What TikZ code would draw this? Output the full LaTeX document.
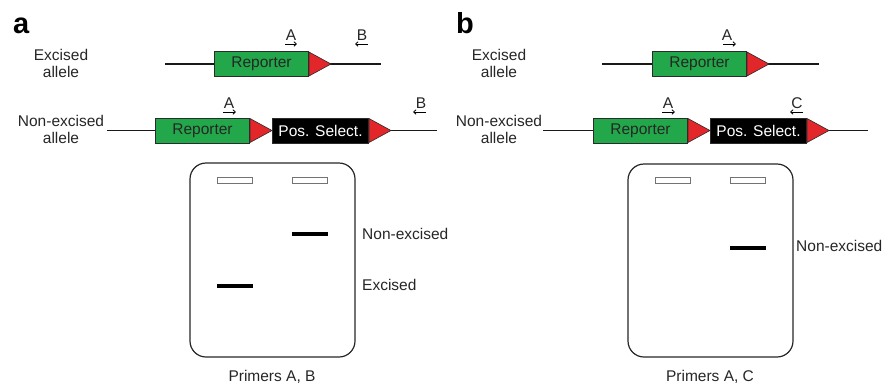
\documentclass[tikz,border=0pt]{standalone}
\usepackage{fontspec}
\setmainfont{Liberation Sans}
\usetikzlibrary{arrows.meta}
\definecolor{repgreen}{HTML}{22A84A}
\definecolor{loxred}{HTML}{E3262A}
\definecolor{edge}{HTML}{2B2B2B}
\tikzset{
  lbl/.style={font=\fontsize{15.5}{17}\selectfont, inner sep=0pt, text=black!85},
  sidelbl/.style={lbl, align=center},
  repbox/.style={draw=edge, line width=1pt, fill=repgreen, minimum width=94pt,
    minimum height=25pt, inner sep=0pt, anchor=west,
    font=\fontsize{15.5}{17}\selectfont, text=black!85},
  selbox/.style={draw=edge, line width=1pt, fill=black, minimum width=96pt,
    minimum height=25pt, inner sep=0pt, anchor=west,
    font=\fontsize{15.5}{17}\selectfont, text=white},
  dna/.style={line width=1.1pt, black!90},
  primerarrow/.style={line width=0.8pt, -{Straight Barb[length=2.5pt,width=4.5pt]}},
  well/.style={draw=black!55, line width=0.9pt, minimum width=35pt,
    minimum height=6pt, inner sep=0pt},
  band/.style={fill=black, minimum width=36pt, minimum height=4pt, inner sep=0pt},
  gel/.style={draw=black!85, line width=1.2pt, rounded corners=16pt},
  panel/.style={font=\fontsize{29}{30}\selectfont\bfseries, inner sep=0pt, anchor=base west}
}
% recombination site: red triangle whose left edge sits at (#2,#3)
\newcommand\loxsite[3]{%
  \coordinate (#1) at (#2,#3);
  \filldraw[fill=loxred, draw=edge, line width=.6pt]
    (#2,#3-12) -- (#2+22,#3) -- (#2,#3+12) -- cycle;}
% primer: label #2 centred at (#3,#4), arrow below it from #5 to #6
\newcommand\primer[6]{%
  \node[lbl] (#1) at (#3,#4) {#2};
  \coordinate (#1s) at (#5,#4+9);
  \coordinate (#1e) at (#6,#4+9);
  \draw[primerarrow] (#1s) -- (#1e);}
\begin{document}
\begin{tikzpicture}[x=1pt,y=-1pt]
\useasboundingbox (0,0) rectangle (883,384);
\clip (0,0) rectangle (883,384);

% ---------------- panel a ----------------
\node[panel] (pa) at (13,33) {a};
\node[sidelbl] (exa) at (61,63) {Excised\\allele};
\node[sidelbl] (nexa) at (61,129) {Non-excised\\allele};

% excised allele
\coordinate (a1l) at (165,64);
\coordinate (a1r) at (381,64);
\draw[dna] (a1l) -- (a1r);
\node[repbox] (repa1) at (214,64) {Reporter};
\loxsite{loxa1}{309}{64}
\primer{pA1}{A}{291}{35}{285}{297}
\primer{pB1}{B}{362}{35}{368}{355}

% non-excised allele
\coordinate (a2l) at (107,130.5);
\coordinate (a2r) at (437,130.5);
\draw[dna] (a2l) -- (a2r);
\node[repbox] (repa2) at (155,130.5) {Reporter};
\loxsite{loxa2}{250}{130.5}
\node[selbox] (sela) at (272,130.5) {Pos. Select.};
\loxsite{loxa3}{369}{130.5}
\primer{pA2}{A}{229}{103}{223}{236}
\primer{pB2}{B}{421}{103}{426}{413}

% gel
\draw[gel] (190,163) rectangle (355,357);
\node[well] (wa1) at (235,180) {};
\node[well] (wa2) at (310,180) {};
\node[band] (ba2) at (310,233.5) {};
\node[band] (ba1) at (235,286) {};
\node[lbl, anchor=west] (lna) at (362,234) {Non-excised};
\node[lbl, anchor=west] (lea) at (362,285) {Excised};
\node[lbl] (prA) at (272,377) {Primers A, B};

% ---------------- panel b ----------------
\node[panel] (pb) at (456,33) {b};
\node[sidelbl] (exb) at (499,63) {Excised\\allele};
\node[sidelbl] (nexb) at (499,129) {Non-excised\\allele};

% excised allele
\coordinate (b1l) at (602,64);
\coordinate (b1r) at (819,64);
\draw[dna] (b1l) -- (b1r);
\node[repbox] (repb1) at (652,64) {Reporter};
\loxsite{loxb1}{747}{64}
\primer{pA3}{A}{727}{35}{723}{736}

% non-excised allele
\coordinate (b2l) at (543,130.5);
\coordinate (b2r) at (868,130.5);
\draw[dna] (b2l) -- (b2r);
\node[repbox] (repb2) at (593,130.5) {Reporter};
\loxsite{loxb2}{688}{130.5}
\node[selbox] (selb) at (710,130.5) {Pos. Select.};
\loxsite{loxb3}{807}{130.5}
\primer{pA4}{A}{668}{103}{662}{675}
\primer{pC4}{C}{797}{103}{803}{790}

% gel
\draw[gel] (628,164) rectangle (793,357);
\node[well] (wb1) at (673,180) {};
\node[well] (wb2) at (748,180) {};
\node[band] (bb2) at (748,248) {};
\node[lbl, anchor=west] (lnb) at (796,246) {Non-excised};
\node[lbl] (prB) at (710,377) {Primers A, C};
\end{tikzpicture}
\end{document}
